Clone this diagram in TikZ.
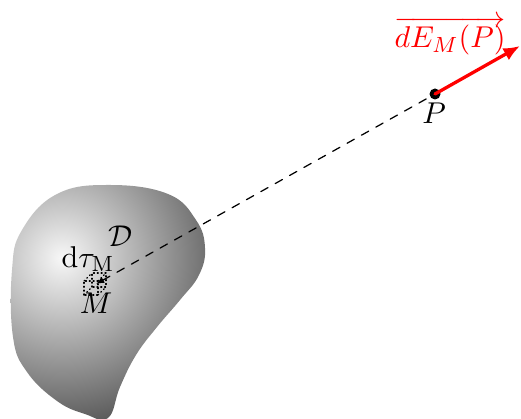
\documentclass[tikz,border=0pt]{standalone}
\usetikzlibrary{arrows.meta}
\begin{document}
\begin{tikzpicture}[x=.364pt,y=.364pt,line cap=round,line join=round,
 font=\fontsize{11}{13}\selectfont,
 champ/.style={red,line width=1.2pt,-{Latex[length=6pt,width=5pt]}},
 cube/.style={densely dotted,line width=.4pt}]
\useasboundingbox (0,0) rectangle (521,418);
% the domain D
\begin{scope}
\clip plot[smooth cycle,tension=.7] coordinates {(110,233) (57,224) (22,188)
 (12,148) (13,81) (27,46) (57,17) (85,4) (108,0) (120,31) (136,63) (157,91)
 (180,118) (199,143) (205,170) (196,198) (168,224)};
\shade[inner color=gray!6,outer color=black!82] (62,160) circle (215);
\end{scope}
\coordinate (M) at (96,134);
\coordinate (P) at (435,324);
\coordinate (E) at (520,372);
% volume element
\draw[cube] (84,123) rectangle (98,137);
\draw[cube] (92,131) rectangle (106,145);
\foreach \x/\y in {84/137,98/137,98/123,84/123}
 \draw[cube] (\x,\y)--++(8,8);
\draw[dashed,line width=.45pt,{Latex[length=3pt,width=2.4pt]}-] (M)--(P);
\fill (P) circle[radius=5.5];
\draw[champ] (P)--(E);
\node (lP) at (434,305) {$P$};
\node (lM) at (96,115) {$M$};
\node (ltau) at (88,159) {$\mathrm{d}\tau_{\mathrm{M}}$};
\node (lD) at (121,182) {$\mathcal{D}$};
\node[red] (lE) at (450,382) {$\overrightarrow{dE_M(P)}$};
\end{tikzpicture}
\end{document}
